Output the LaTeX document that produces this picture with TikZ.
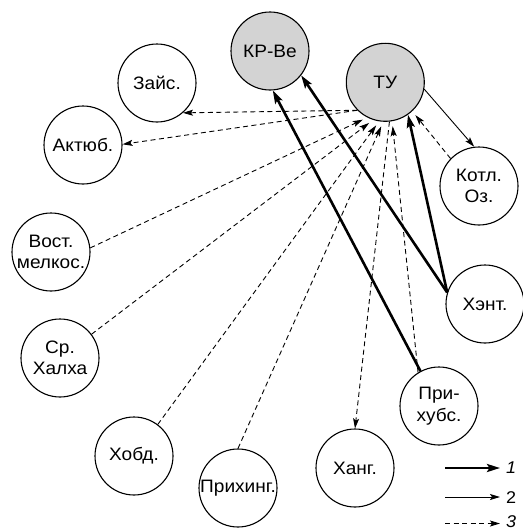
\documentclass[tikz,border=0pt]{standalone}
\usepackage{fontspec}
\setmainfont{Liberation Sans}[FakeStretch=1.06]
\usetikzlibrary{arrows.meta}
\definecolor{nodegray}{RGB}{211,211,211}
\tikzset{
  site/.style={circle, draw=black, line width=1.1pt, minimum size=78pt, inner sep=0pt,
    align=center, fill=white, font=\fontsize{18}{21.5}\selectfont},
  core/.style={site, fill=nodegray},
  link1/.style={line width=2.6pt, -{Stealth[length=13pt,width=8pt,inset=2.5pt]}},
  link2/.style={line width=0.9pt, -{Stealth[length=10pt,width=6pt,inset=2pt]}},
  link3/.style={line width=0.9pt, dash pattern=on 5pt off 3.5pt,
    -{Stealth[length=10pt,width=6pt,inset=2pt]}},
  gap/.style={shorten >=5pt},
  leglabel/.style={anchor=west, inner sep=0pt, font=\fontsize{17}{20}\selectfont},
}
\begin{document}
\begin{tikzpicture}[x=1pt,y=-1pt]
\useasboundingbox (0,0) rectangle (522,530);

\node[core] (kr) at (270,51) {КР-Ве};
\node[core] (tu) at (385.3,82.3) {ТУ};
\node[site] (zais) at (157,83) {Зайс.};
\node[site] (aktyub) at (83,145) {Актюб.};
\node[site] (vost) at (51,252) {Вост.\\мелкос.};
\node[site] (halha) at (60,358) {Ср.\\Халха};
\node[site] (hobd) at (134,456) {Хобд.};
\node[site] (prihing) at (238,488) {Прихинг.};
\node[site] (hang) at (355,468) {Ханг.};
\node[site] (prihubs) at (439,406) {При-\\хубс.};
\node[site] (hent) at (485,304) {Хэнт.};
\node[site] (kotl) at (479,186) {Котл.\\Оз.};

% type 1: thick
\draw[link1] (prihubs.118) -- (kr.-86);
\draw[link1] (hent.163) -- (kr.-38);
\draw[link1] (hent.163) -- (tu.-55);

% type 2: thin
\draw[link2] (tu.-10) -- (kotl.97);

% type 3: dashed
\draw[link3] (tu.-135) -- (zais.-49);
\draw[link3] (tu.-135) -- (aktyub.1);
\draw[link3] (tu.-84) -- (hang.90);
\draw[link3, gap] (kotl.136) -- (tu.-47);
\draw[link3, gap] (vost.6) -- (tu.-117);
\draw[link3, gap] (halha.37) -- (tu.-108);
\draw[link3, gap] (hobd.53) -- (tu.-99);
\draw[link3, gap] (prihing.90) -- (tu.-93);
\draw[link3, gap] (prihubs.122) -- (tu.-80);

% legend
\coordinate (l1s) at (445,468); \coordinate (l1e) at (500,468);
\coordinate (l2s) at (445,497); \coordinate (l2e) at (500,497);
\coordinate (l3s) at (445,523.5); \coordinate (l3e) at (500,523.5);
\draw[link1] (l1s) -- (l1e);
\draw[link2] (l2s) -- (l2e);
\draw[link3] (l3s) -- (l3e);
\node[leglabel] (lab1) at (506,467.5) {\itshape 1};
\node[leglabel] (lab2) at (506,497.5) {2};
\node[leglabel] (lab3) at (506,522) {\itshape 3};
\end{tikzpicture}
\end{document}
